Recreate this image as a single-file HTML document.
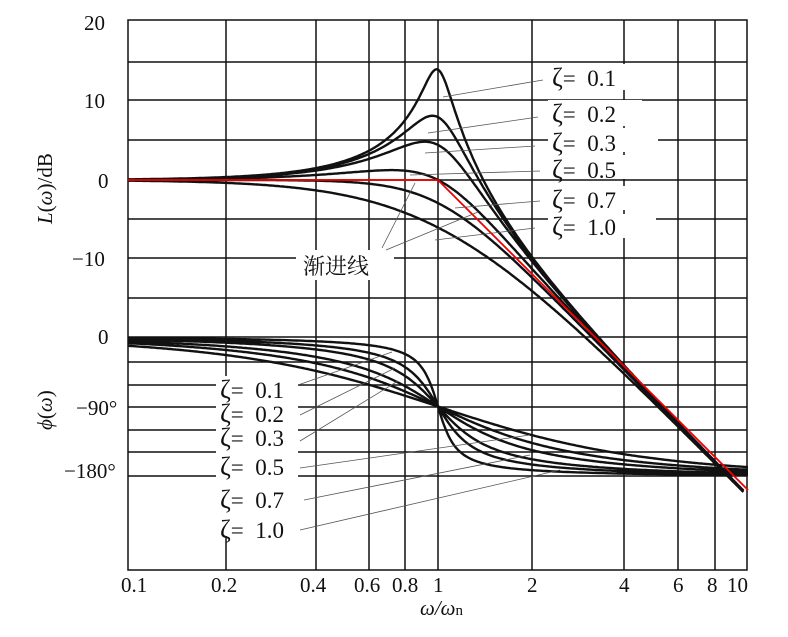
<!DOCTYPE html>
<html><head><meta charset="utf-8"><style>
body{margin:0;background:#fff}
svg text{font-family:"Liberation Serif","Noto Serif CJK SC",serif;fill:#111}
</style></head><body>
<svg id="s" width="788" height="632" viewBox="0 0 788 632" xmlns="http://www.w3.org/2000/svg">
<g stroke="#111" stroke-width="1.5" fill="none" id="grid">
<rect x="128" y="20" width="619" height="550"/>
<path d="M128 62H747M128 100H747M128 140H747M128 180H747M128 219H747M128 258H747M128 298H747M128 337H747M128 362H747M128 385H747M128 407H747M128 430H747M128 452H747M128 476H747"/>
<path d="M226 20V570M316 20V570M369 20V570M405 20V570M438 20V570M532 20V570M624 20V570M678 20V570M715 20V570"/>
</g>
<g fill="#fff" stroke="none">
<rect x="548" y="64" width="94" height="26"/>
<rect x="548" y="100" width="94" height="26"/>
<rect x="548" y="128" width="110" height="24"/>
<rect x="548" y="155" width="110" height="24"/>
<rect x="548" y="186" width="94" height="24"/>
<rect x="548" y="214" width="108" height="24"/>
<rect x="296" y="250" width="98" height="30"/>
<rect x="216" y="376" width="82" height="160"/>
</g>
<g id="curves" stroke="#111" stroke-width="2.4" fill="none"></g>
<path d="M128 180H438L748 490" stroke="#e00" stroke-width="1.8" fill="none"/>
<g stroke="#555" stroke-width="0.8" fill="none">
<path d="M443 97L543 80M428 133L538 117M425 153L535 146M410 175L540 171M455 208L540 201M435 240L535 228"/>
<path d="M382 248L415 183M386 250L478 212"/>
<path d="M298 385L392 352M300 415L395 368M300 441L398 381M300 468L530 435M304 500L530 455M300 530L560 470"/>
</g>
<g font-size="21">
<g font-size="23">
<text x="552" y="86"><tspan font-size="26">ζ</tspan>=&#160; 0.1</text>
<text x="552" y="122"><tspan font-size="26">ζ</tspan>=&#160; 0.2</text>
<text x="552" y="151"><tspan font-size="26">ζ</tspan>=&#160; 0.3</text>
<text x="552" y="178"><tspan font-size="26">ζ</tspan>=&#160; 0.5</text>
<text x="552" y="208"><tspan font-size="26">ζ</tspan>=&#160; 0.7</text>
<text x="552" y="235"><tspan font-size="26">ζ</tspan>=&#160; 1.0</text>
<text x="220" y="398"><tspan font-size="26">ζ</tspan>=&#160; 0.1</text>
<text x="220" y="422"><tspan font-size="26">ζ</tspan>=&#160; 0.2</text>
<text x="220" y="446"><tspan font-size="26">ζ</tspan>=&#160; 0.3</text>
<text x="220" y="475"><tspan font-size="26">ζ</tspan>=&#160; 0.5</text>
<text x="220" y="508"><tspan font-size="26">ζ</tspan>=&#160; 0.7</text>
<text x="220" y="538"><tspan font-size="26">ζ</tspan>=&#160; 1.0</text>
</g>
<text x="303" y="274" font-size="22">渐进线</text>
<text x="84" y="30">20</text>
<text x="84" y="108">10</text>
<text x="98" y="188">0</text>
<text x="72" y="266">−10</text>
<text x="98" y="344">0</text>
<text x="76" y="415">−90°</text>
<text x="64" y="478">−180°</text>
<text x="121" y="592">0.1</text>
<text x="211" y="592">0.2</text>
<text x="300" y="592">0.4</text>
<text x="354" y="592">0.6</text>
<text x="392" y="592">0.8</text>
<text x="433" y="592">1</text>
<text x="527" y="592">2</text>
<text x="619" y="592">4</text>
<text x="673" y="592">6</text>
<text x="707" y="592">8</text>
<text x="727" y="592">10</text>
<text x="420" y="615" font-style="italic">ω/ω<tspan font-style="normal" font-size="15">n</tspan></text>
<text transform="translate(52,224) rotate(-90)"><tspan font-style="italic">L</tspan>(<tspan font-style="italic">ω</tspan>)/dB</text>
<text transform="translate(52,430) rotate(-90)"><tspan font-style="italic">ϕ</tspan>(<tspan font-style="italic">ω</tspan>)</text>
</g>
</svg>
<script>
var g=document.getElementById('curves'),Z=[0.1,0.2,0.3,0.5,0.7,1.0],d='';
function X(u){return 128+310*(Math.log10(u)+1);}
Z.forEach(function(z){
 var m='',p='';
 for(var i=0;i<=400;i++){
  var u=Math.pow(10,-1+2*i/400);
  var re=1-u*u,im=2*z*u;
  var db=-10*Math.log10(re*re+im*im);
  var y=180-7.9*db;
  var ph=Math.atan2(im,re)*180/Math.PI;
  var yp=337+ph*0.772;
  if(y<=492) m+=(m?'L':'M')+X(u).toFixed(1)+' '+y.toFixed(1);
  p+=(p?'L':'M')+X(u).toFixed(1)+' '+yp.toFixed(1);
 }
 d+=m+p;
});
var e=document.createElementNS('http://www.w3.org/2000/svg','path');e.setAttribute('d',d);g.appendChild(e);
</script>
</body></html>
